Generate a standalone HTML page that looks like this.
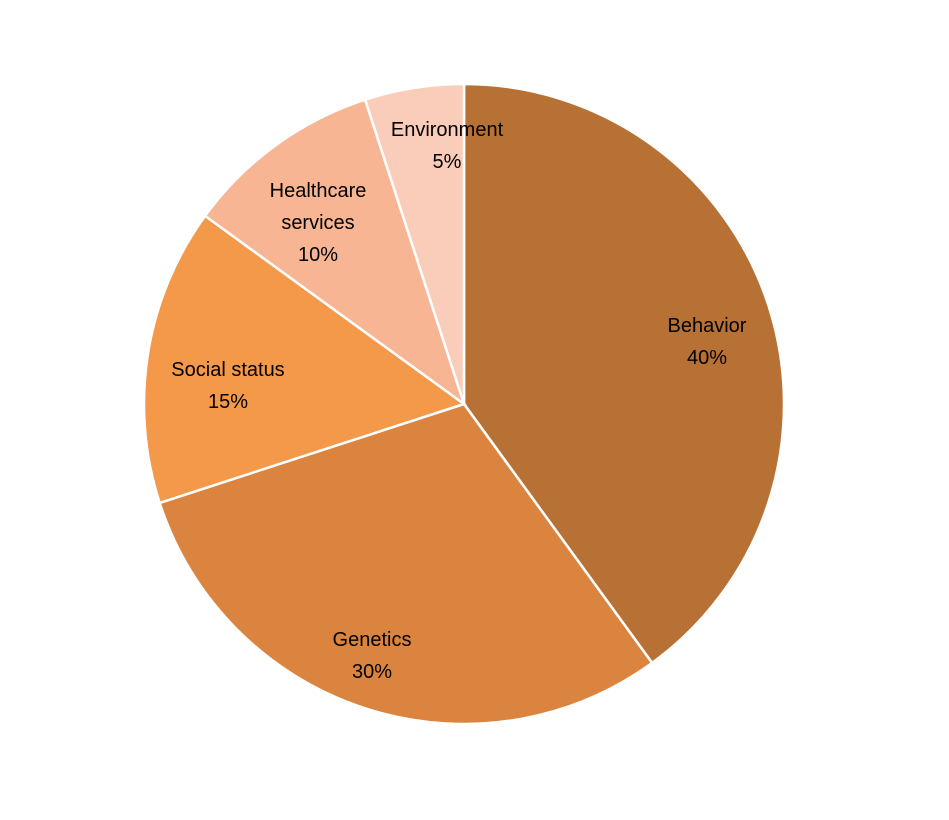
<!DOCTYPE html>
<html><head><meta charset="utf-8"><style>
body{margin:0;background:#fff;}
svg text{font-family:"Liberation Sans",sans-serif;font-size:20px;fill:#000;}
</style></head><body>
<svg width="949" height="815" id="chart"></svg>
<script>
const categories=["Behavior","Genetics","Social status","Healthcare services","Environment"];
const values=[40,30,15,10,5];
const colors=["#B87135","#DB843F","#F4984A","#F7B593","#FACDBA"];
const labelLines=[["Behavior","40%"],["Genetics","30%"],["Social status","15%"],["Healthcare","services","10%"],["Environment","5%"]];
const labelPos=[[707,341],[372,655],[228,385],[318,222],[447,145]];
const svg=document.getElementById('chart');
const NS="http://www.w3.org/2000/svg";
const cx=464,cy=404,r=320;
const total=values.reduce((a,b)=>a+b,0);
let a0=0;
values.forEach((v,i)=>{
  const a1=a0+v/total*2*Math.PI;
  const x0=cx+r*Math.sin(a0),y0=cy-r*Math.cos(a0);
  const x1=cx+r*Math.sin(a1),y1=cy-r*Math.cos(a1);
  const p=document.createElementNS(NS,'path');
  p.setAttribute('d',`M${cx},${cy}L${x0},${y0}A${r},${r} 0 ${a1-a0>Math.PI?1:0} 1 ${x1},${y1}Z`);
  p.setAttribute('fill',colors[i]);p.setAttribute('stroke','#fff');p.setAttribute('stroke-width','2.5');
  
  
  svg.appendChild(p);
  a0=a1;
});
labelLines.forEach((lines,i)=>{
  const [lx,ly]=labelPos[i];
  const t=document.createElementNS(NS,'text');
  t.setAttribute('text-anchor','middle');
  
  
  const n=lines.length;
  lines.forEach((s,j)=>{
    const ts=document.createElementNS(NS,'tspan');
    ts.setAttribute('x',lx);
    ts.setAttribute('y',ly+(j-(n-1)/2)*32+7);
    ts.textContent=s;t.appendChild(ts);
  });
  svg.appendChild(t);
});
</script>
</body></html>
